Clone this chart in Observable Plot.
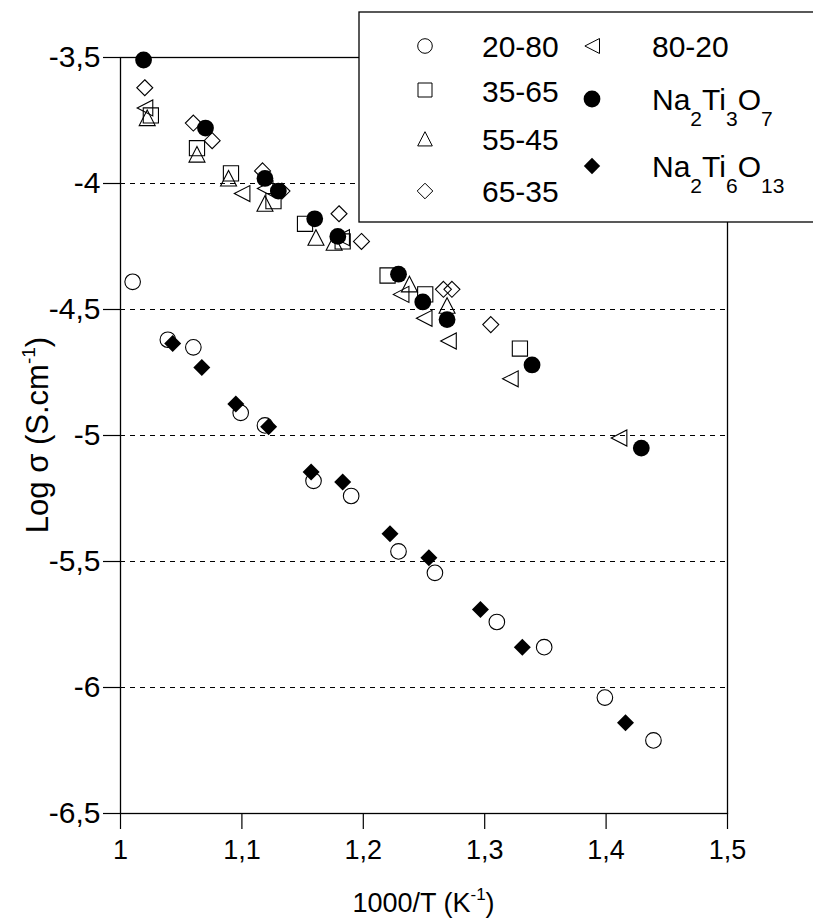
<!DOCTYPE html>
<html><head><meta charset="utf-8">
<script src="https://cdn.jsdelivr.net/npm/d3@7"></script>
<script src="https://cdn.jsdelivr.net/npm/@observablehq/plot@0.6"></script>
<style>body{margin:0;background:#fff;} #chart svg{display:block;}</style>
</head><body><div id="chart"></div>
<script>
// ---- data (1000/T, log sigma) ----
const s20_80 = [[1.010,-4.39],[1.039,-4.62],[1.060,-4.65],[1.099,-4.91],[1.119,-4.96],[1.159,-5.18],[1.190,-5.24],[1.229,-5.46],[1.259,-5.545],[1.310,-5.74],[1.349,-5.84],[1.399,-6.04],[1.439,-6.21]];
const s35_65 = [[1.025,-3.73],[1.063,-3.86],[1.091,-3.96],[1.126,-4.07],[1.152,-4.16],[1.183,-4.23],[1.220,-4.365],[1.251,-4.44],[1.329,-4.655]];
const s55_45 = [[1.022,-3.74],[1.063,-3.885],[1.089,-3.98],[1.119,-4.08],[1.161,-4.215],[1.176,-4.235],[1.238,-4.40],[1.269,-4.485]];
const s65_35 = [[1.020,-3.62],[1.060,-3.76],[1.0755,-3.83],[1.117,-3.95],[1.133,-4.03],[1.180,-4.12],[1.1985,-4.23],[1.266,-4.42],[1.273,-4.42],[1.305,-4.56]];
const s80_20 = [[1.020,-3.70],[1.100,-4.04],[1.119,-4.02],[1.182,-4.215],[1.231,-4.44],[1.250,-4.535],[1.270,-4.625],[1.321,-4.775],[1.4105,-5.01]];
const sNa2Ti3O7 = [[1.019,-3.51],[1.070,-3.78],[1.119,-3.98],[1.130,-4.03],[1.160,-4.14],[1.179,-4.21],[1.229,-4.36],[1.249,-4.47],[1.269,-4.54],[1.339,-4.72],[1.429,-5.05]];
const sNa2Ti6O13 = [[1.043,-4.635],[1.067,-4.73],[1.095,-4.875],[1.122,-4.965],[1.157,-5.145],[1.183,-5.185],[1.222,-5.39],[1.254,-5.485],[1.2965,-5.69],[1.331,-5.84],[1.416,-6.14]];

const xTicks = [1, 1.1, 1.2, 1.3, 1.4, 1.5];
const yTicks = [-3.5, -4, -4.5, -5, -5.5, -6, -6.5];
const gridLevels = [-4, -4.5, -5, -5.5, -6, -6.5];
const legendCol1 = ["20-80", "35-65", "55-45", "65-35"];

// ---- custom symbols ----
const mk = f => ({draw(c, size){ f(c, Math.sqrt(size / Math.PI)); }});
const symCircle = mk((c,r)=>{ c.moveTo(r,0); c.arc(0,0,r,0,2*Math.PI); });
const symSquare = mk((c,r)=>{ c.rect(-r,-r,2*r,2*r); });
const symTriUp = mk((c,r)=>{ c.moveTo(0,-r); c.lineTo(r,r*0.95); c.lineTo(-r,r*0.95); c.closePath(); });
const symTriLeft = mk((c,r)=>{ c.moveTo(-r*0.95,0); c.lineTo(r,-r); c.lineTo(r,r); c.closePath(); });
const symDiamond = mk((c,r)=>{ c.moveTo(0,-r); c.lineTo(r,0); c.lineTo(0,r); c.lineTo(-r,0); c.closePath(); });

const FONT = "'Liberation Sans', Arial, Helvetica, sans-serif";
const fmt = d => String(d).replace(".", ",");
const open = (data, symbol, r) => Plot.dot(data, {x: d => d[0], y: d => d[1], symbol, r, fill: "none", stroke: "#000", strokeWidth: 1.1});
const filled = (data, symbol, r) => Plot.dot(data, {x: d => d[0], y: d => d[1], symbol, r, fill: "#000", stroke: "none"});

// annotations: axis titles and in-plot legend
function annotations(index, scales, values, dims) {
  const g = d3.create("svg:g").attr("font-family", FONT).attr("fill", "#000").attr("text-anchor", "start");
  const cx = (dims.marginLeft + dims.width - dims.marginRight) / 2;
  const cy = (dims.marginTop + dims.height - dims.marginBottom) / 2;
  // x title
  const xt = g.append("text").attr("x", cx).attr("y", 912).attr("text-anchor", "middle").attr("font-size", 27);
  xt.append("tspan").text("1000/T (K");
  xt.append("tspan").attr("font-size", 17).attr("dy", -12).text("-1");
  xt.append("tspan").attr("dy", 12).text(")");
  // y title
  const yt = g.append("text").attr("transform", `translate(48,${cy}) rotate(-90)`).attr("text-anchor", "middle").attr("font-size", 31);
  yt.append("tspan").text("Log σ (S.cm");
  yt.append("tspan").attr("font-size", 19).attr("dy", -13).text("-1");
  yt.append("tspan").attr("dy", 13).text(")");
  // legend box
  g.append("rect").attr("x", 359).attr("y", 12).attr("width", 500).attr("height", 210)
    .attr("fill", "#fff").attr("stroke", "#000").attr("stroke-width", 1.3);
  const sym = (s, r, x, y, fill) => g.append("path")
    .attr("d", d3.symbol(s, Math.PI * r * r)())
    .attr("transform", `translate(${x},${y})`)
    .attr("fill", fill ? "#000" : "none").attr("stroke", fill ? "none" : "#000").attr("stroke-width", 1);
  const syms1 = [[symCircle, 7.3, 46], [symSquare, 7, 90], [symTriUp, 7.3, 139], [symDiamond, 7.8, 191]];
  const base1 = [57, 102, 150, 202];
  legendCol1.forEach((lab, i) => {
    sym(syms1[i][0], syms1[i][1], 425, syms1[i][2], false);
    g.append("text").attr("x", 482).attr("y", base1[i]).attr("font-size", 30).text(lab);
  });
  sym(symTriLeft, 7.5, 592, 46, false);
  g.append("text").attr("x", 652).attr("y", 57).attr("font-size", 30).text("80-20");
  sym(symCircle, 8.4, 592, 99, true);
  sym(symDiamond, 8.2, 592, 166, true);
  const chem = (y, parts) => {
    const t = g.append("text").attr("x", 652).attr("y", y).attr("font-size", 30);
    let low = false;
    parts.forEach(([s, sub]) => {
      const sp = t.append("tspan").text(s);
      if (sub && !low) { sp.attr("font-size", 21).attr("dy", 16); low = true; }
      else if (!sub && low) { sp.attr("dy", -16); low = false; }
      else if (sub) sp.attr("font-size", 21);
    });
  };
  chem(110, [["Na"], ["2", 1], ["Ti"], ["3", 1], ["O"], ["7", 1]]);
  chem(177, [["Na"], ["2", 1], ["Ti"], ["6", 1], ["O"], ["13", 1]]);
  return g.node();
}

const chart = Plot.plot({
  width: 813, height: 922,
  marginLeft: 120, marginRight: 86, marginTop: 57, marginBottom: 109,
  style: {fontFamily: FONT, background: "#fff", color: "#000"},
  x: {domain: [1, 1.5]},
  y: {domain: [-6.5, -3.5]},
  marks: [
    Plot.ruleY(gridLevels, {stroke: "#000", strokeWidth: 1, strokeDasharray: "5,5"}),
    Plot.frame({stroke: "#000", strokeWidth: 1.3}),
    Plot.axisY({ticks: yTicks, tickFormat: fmt, tickSize: 17, tickPadding: 3, fontSize: 30, label: null, strokeWidth: 1.2}),
    Plot.axisX({ticks: xTicks, tickFormat: fmt, tickSize: 16, tickPadding: 10, fontSize: 27, label: null, strokeWidth: 1.2}),
    open(s20_80, symCircle, 7.8),
    open(s35_65, symSquare, 7.6),
    open(s55_45, symTriUp, 8),
    open(s65_35, symDiamond, 8),
    open(s80_20, symTriLeft, 8),
    filled(sNa2Ti3O7, symCircle, 8.4),
    filled(sNa2Ti6O13, symDiamond, 8.5),
    annotations
  ]
});
document.getElementById("chart").append(chart);
</script>
</body></html>
